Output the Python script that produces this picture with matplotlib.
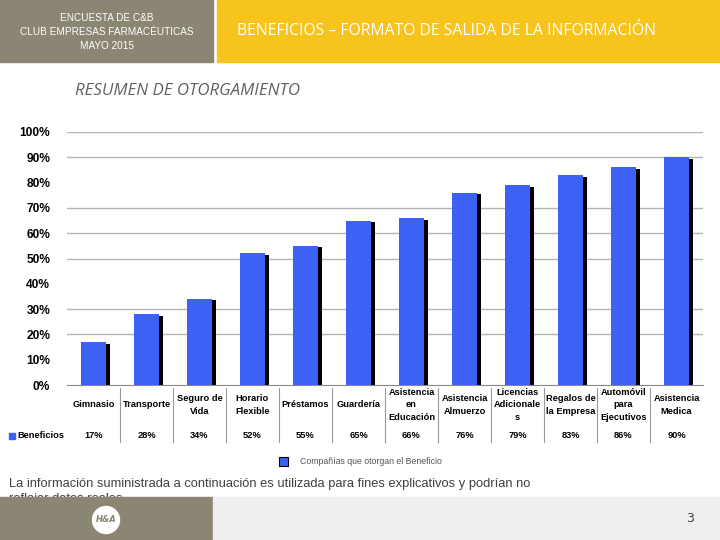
import matplotlib
matplotlib.use("Agg")
import matplotlib.pyplot as plt
import matplotlib.transforms as mtransforms
from matplotlib.patches import Rectangle, Ellipse

# datos del grafico
categorias = ["Gimnasio", "Transporte", "Seguro de\nVida", "Horario\nFlexible", "Préstamos",
              "Guardería", "Asistencia\nen\nEducación", "Asistencia\nAlmuerzo",
              "Licencias\nAdicionale\ns", "Regalos de\nla Empresa", "Automóvil\npara\nEjecutivos",
              "Asistencia\nMedica"]
beneficios = [17, 28, 34, 52, 55, 65, 66, 76, 79, 83, 86, 90]
ticks_y = [0, 10, 20, 30, 40, 50, 60, 70, 80, 90, 100]
grid_visible = [20, 30, 50, 60, 70, 90, 100]

AZUL = "#3b62f5"
GRIS = "#8b8573"
AMARILLO = "#f6c41c"
narrow = ["Liberation Sans Narrow", "Liberation Sans", "DejaVu Sans"]
arial = ["Liberation Sans", "DejaVu Sans"]

fig = plt.figure(figsize=(7.2, 5.4), dpi=100)
W, H = 720.0, 540.0


def box(x0, y0, x1, y1, color, z=1):
    # coordenadas en pixeles desde arriba-izquierda
    fig.patches.append(Rectangle((x0 / W, 1 - y1 / H), (x1 - x0) / W, (y1 - y0) / H,
                                 transform=fig.transFigure, color=color, zorder=z))


# encabezado
box(0, 0, 213, 62, GRIS)
box(217, 0, 720, 62, AMARILLO)
for i, t in enumerate(["ENCUESTA DE C&B", "CLUB EMPRESAS FARMACÉUTICAS", "MAYO 2015"]):
    fig.text(107 / W, 1 - (18 + 14 * i) / H, t, color="white", fontsize=7.2,
             family=narrow, ha="center", va="center")
fig.text(237 / W, 1 - 31 / H, "BENEFICIOS – FORMATO DE SALIDA DE LA INFORMACIÓN",
         color="white", fontsize=11.3, family=["Open Sans", "DejaVu Sans"], va="center")
fig.text(75 / W, 1 - 91 / H, "RESUMEN DE OTORGAMIENTO", color="#606060", fontsize=12.2,
         style="italic", family=["Open Sans", "DejaVu Sans"], va="center")

# grafico
ax = fig.add_axes([67 / W, 1 - 385 / H, 636 / W, 253 / H])
x = range(len(categorias))
ax.bar([i + 0.06 for i in x], [v - 0.6 for v in beneficios], width=0.49, color="black", zorder=2)
ax.bar(x, beneficios, width=0.49, color=AZUL, zorder=3)
for g in grid_visible:
    ax.axhline(g, color="#b4b4b4", lw=1, zorder=1)
ax.set_xlim(-0.5, len(categorias) - 0.5)
ax.set_ylim(0, 100)
ax.set_yticks(ticks_y)
ax.set_yticklabels([f"{t}%" for t in ticks_y], fontsize=8.6, fontweight="bold", family=arial)
ax.set_xticks([])
ax.tick_params(axis="y", length=0, pad=12)
for s in ["top", "right", "left"]:
    ax.spines[s].set_visible(False)
ax.spines["bottom"].set_color("#888888")

# tabla de datos bajo el eje
tr = mtransforms.blended_transform_factory(ax.transData, ax.transAxes)
for i, (c, v) in enumerate(zip(categorias, beneficios)):
    ax.text(i, -0.079, c, transform=tr, ha="center", va="center", fontsize=6.7,
            fontweight="bold", family=arial, linespacing=1.45, clip_on=False)
    ax.text(i, -0.2, f"{v}%", transform=tr, ha="center", va="center", fontsize=6.7,
            fontweight="bold", family=arial, clip_on=False)
for i in range(1, len(categorias)):
    ax.plot([i - 0.5, i - 0.5], [-0.012, -0.225], transform=tr, color="#999999",
            lw=0.8, clip_on=False)
fig.patches.append(Rectangle((9 / W, 1 - 439 / H), 6 / W, 6 / H, transform=fig.transFigure,
                             color=AZUL))
fig.text(17 / W, 1 - 436 / H, "Beneficios", fontsize=6.7, fontweight="bold", family=arial,
         va="center")

# leyenda
fig.patches.append(Rectangle((279 / W, 1 - 466 / H), 9 / W, 9 / H, transform=fig.transFigure,
                             facecolor=AZUL, edgecolor="black", lw=0.8))
fig.text(300 / W, 1 - 461 / H, "Compañías que otorgan el Beneficio", fontsize=6.3,
         color="#555555", family=arial, va="center")

# nota
fig.text(9 / W, 1 - 484 / H, "La información suministrada a continuación es utilizada para fines explicativos y podrían no",
         fontsize=9.3, color="#404040", family=narrow, va="center")
fig.text(9 / W, 1 - 499 / H, "reflejar datos reales.", fontsize=9.3, color="#404040",
         family=narrow, va="center")

# pie de pagina
box(0, 497, 213, 540, GRIS, z=5)
box(213, 497, 720, 540, "#efefef", z=5)
logo = Ellipse((106 / W, 1 - 520 / H), 27 / W, 27 / H, transform=fig.transFigure,
               color="white", zorder=6)
fig.patches.append(logo)
fig.text(106 / W, 1 - 520 / H, "H&A", fontsize=6, color=GRIS, fontweight="bold",
         style="italic", ha="center", va="center", zorder=7)
fig.text(690 / W, 1 - 518 / H, "3", fontsize=9, color="#404040", ha="center", va="center",
         zorder=7)

fig.savefig("out.png", dpi=100)
